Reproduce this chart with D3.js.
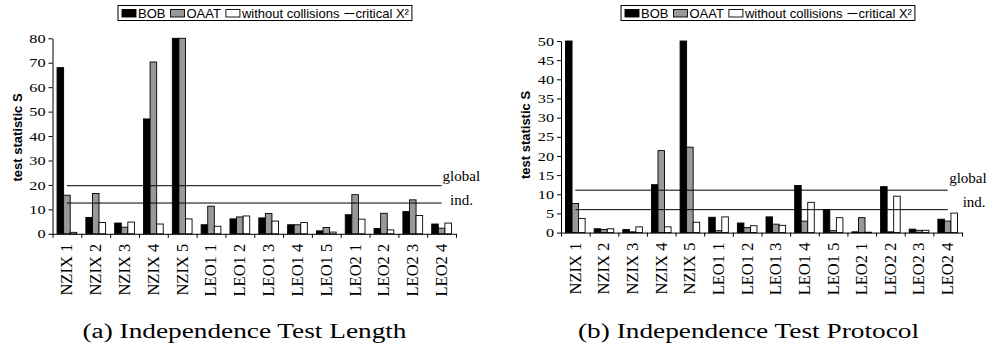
<!DOCTYPE html>
<html>
<head>
<meta charset="utf-8">
<script src="https://cdn.jsdelivr.net/npm/d3@7"></script>
<style>
  body { margin: 0; background: #fff; }
  svg { display: block; }
  .serif { font-family: "Liberation Serif", "Times New Roman", Times, serif; }
  .sans { font-family: "Liberation Sans", Arial, Helvetica, sans-serif; }
</style>
</head>
<body>
<svg id="chart" width="992" height="349"></svg>
<script>
// ---- data -------------------------------------------------------------
const categories = ["NZIX 1", "NZIX 2", "NZIX 3", "NZIX 4", "NZIX 5",
                    "LEO1 1", "LEO1 2", "LEO1 3", "LEO1 4", "LEO1 5",
                    "LEO2 1", "LEO2 2", "LEO2 3", "LEO2 4"];
const seriesNames = ["BOB", "OAAT", "without collisions"];
const criticalName = "critical X\u00B2";
const criticalLabels = ["global", "ind."];

// (a) test on packet length
const lengthBOB  = [68, 6.7, 4.4, 47, 95, 3.7, 6.1, 6.5, 3.7, 1.2, 7.8, 2.2, 9.1, 4.0];
const lengthOAAT = [15.8, 16.5, 2.7, 70.3, 120, 11.3, 6.9, 8.3, 3.7, 2.6, 16.0, 8.4, 13.9, 2.3];
const lengthFree = [0.6, 4.6, 4.8, 4.0, 6.1, 3.1, 7.3, 5.2, 4.6, 0.7, 6.0, 1.6, 7.5, 4.4];
const lengthCritical = [19.68, 12.59];
const lengthTicks = [0, 10, 20, 30, 40, 50, 60, 70, 80];

// (b) test on protocol
const protocolBOB  = [60, 1.0, 0.8, 12.5, 55, 4.0, 2.5, 4.1, 12.3, 6.0, 0.2, 12.0, 0.9, 3.5];
const protocolOAAT = [7.6, 0.8, 0.2, 21.4, 22.3, 0.5, 1.3, 2.2, 3.0, 0.5, 3.9, 0.2, 0.6, 3.0];
const protocolFree = [3.7, 1.0, 1.5, 1.5, 2.7, 4.1, 1.8, 1.9, 7.9, 3.9, 0.1, 9.5, 0.6, 5.1];
const protocolCritical = [11.07, 5.99];
const protocolTicks = [0, 5, 10, 15, 20, 25, 30, 35, 40, 45, 50];

const captions = ["(a) Independence Test Length", "(b) Independence Test Protocol"];

// ---- styling ----------------------------------------------------------
const fills = { "BOB": "#000000", "OAAT": "#999999", "without collisions": "#ffffff" };

const svg = d3.select("#chart");

const panels = [
  {
    values: [lengthBOB, lengthOAAT, lengthFree], critical: lengthCritical,
    ticks: lengthTicks, max: 80,
    xLeft: 52.5, xRight: 456, yBottom: 233.8, yTop: 38.3,
    titleX: 17.5, titleY: 137.5,
    legendX: 118,
    labelPos: [{ dx: 1, dy: -5 }, { dx: 8.5, dy: 2 }],
    caption: captions[0], captionX: 244.5, captionW: 324
  },
  {
    values: [protocolBOB, protocolOAAT, protocolFree], critical: protocolCritical,
    ticks: protocolTicks, max: 50,
    xLeft: 561, xRight: 962, yBottom: 232.6, yTop: 41,
    titleX: 525, titleY: 135,
    legendX: 621,
    labelPos: [{ dx: 1.5, dy: -7 }, { dx: 15, dy: -3 }],
    caption: captions[1], captionX: 748.5, captionW: 341
  }
];

function drawPanel(p) {
  const g = svg.append("g");

  const x0 = d3.scaleBand().domain(categories).range([p.xLeft, p.xRight]).padding(0);
  const x1 = d3.scaleBand().domain(seriesNames).range([0, x0.bandwidth()])
    .paddingInner(0).paddingOuter(0.69);
  const y = d3.scaleLinear().domain([0, p.max]).range([p.yBottom, p.yTop]).clamp(true);
  const boundary = d3.scaleLinear().domain([0, categories.length]).range([p.xLeft, p.xRight]);

  // grouped bars
  const rows = categories.map((c, i) => ({
    c, vals: seriesNames.map((s, k) => ({ s, v: p.values[k][i] }))
  }));
  g.append("g").selectAll("g").data(rows).join("g")
    .attr("transform", d => `translate(${x0(d.c)},0)`)
    .selectAll("rect").data(d => d.vals).join("rect")
      .attr("x", d => x1(d.s))
      .attr("width", x1.bandwidth())
      .attr("y", d => y(d.v))
      .attr("height", d => y(0) - y(d.v))
      .attr("fill", d => fills[d.s])
      .attr("stroke", "#000")
      .attr("stroke-width", 0.9);

  // critical value lines, from first to last category centre
  const half = x0.bandwidth() / 2;
  const lx1 = x0(categories[0]) + half;
  const lx2 = x0(categories[categories.length - 1]) + half;
  p.critical.forEach((v, i) => {
    g.append("line")
      .attr("x1", lx1).attr("x2", lx2)
      .attr("y1", y(v)).attr("y2", y(v))
      .attr("stroke", "#000").attr("stroke-width", 1);
    g.append("text").attr("class", "serif")
      .attr("x", lx2 + p.labelPos[i].dx)
      .attr("y", y(v) + p.labelPos[i].dy)
      .attr("font-size", 15)
      .attr("fill", "#000")
      .text(criticalLabels[i]);
  });

  // y axis
  const yAxis = g.append("g")
    .attr("transform", `translate(${p.xLeft},0)`)
    .call(d3.axisLeft(y).tickValues(p.ticks).tickSize(4).tickSizeOuter(0).tickPadding(3));
  yAxis.attr("font-family", null);
  yAxis.selectAll("text").attr("class", "serif").attr("font-size", 13).attr("fill", "#000")
    .each(function () {
      // wide digits, as in the printed figure
      const w = this.getComputedTextLength();
      d3.select(this).attr("textLength", w * 1.25).attr("lengthAdjust", "spacingAndGlyphs");
    });
  yAxis.selectAll("line, path").attr("stroke", "#000");

  // x axis with ticks on category boundaries
  const xAxis = g.append("g")
    .attr("transform", `translate(0,${p.yBottom})`)
    .call(d3.axisBottom(boundary).tickValues(d3.range(categories.length + 1))
      .tickSize(4).tickSizeOuter(0).tickFormat(""));
  xAxis.selectAll("line, path").attr("stroke", "#000");

  // category labels, rotated
  g.append("g").selectAll("text").data(categories).join("text")
    .attr("class", "serif")
    .attr("transform", d => `translate(${x0(d) + half},${p.yBottom + 10}) rotate(-90)`)
    .attr("dy", "0.33em")
    .attr("text-anchor", "end")
    .attr("font-size", 16.5)
    .attr("fill", "#000")
    .text(d => d);

  // y axis title
  g.append("text").attr("class", "sans")
    .attr("transform", `translate(${p.titleX},${p.titleY}) rotate(-90)`)
    .attr("dy", "0.35em")
    .attr("text-anchor", "middle")
    .attr("font-size", 13).attr("font-weight", "bold")
    .attr("fill", "#000")
    .text("test statistic S");

  // legend
  const lg = g.append("g").attr("transform", `translate(${p.legendX},5.5)`);
  const box = lg.append("rect").attr("fill", "#fff").attr("stroke", "#000").attr("stroke-width", 1);
  let cx = 4;
  seriesNames.forEach(s => {
    lg.append("rect").attr("x", cx).attr("y", 4).attr("width", 14).attr("height", 7.5)
      .attr("fill", fills[s]).attr("stroke", "#000").attr("stroke-width", 0.9);
    const t = lg.append("text").attr("class", "sans").attr("x", cx + 16).attr("y", 12.2)
      .attr("font-size", 13).attr("fill", "#000").text(s);
    cx += 16 + t.node().getComputedTextLength() + 5;
  });
  lg.append("line").attr("x1", cx).attr("x2", cx + 10).attr("y1", 8).attr("y2", 8)
    .attr("stroke", "#000").attr("stroke-width", 1);
  const ct = lg.append("text").attr("class", "sans").attr("x", cx + 11).attr("y", 12.2)
    .attr("font-size", 13).attr("fill", "#000").text(criticalName);
  cx += 11 + ct.node().getComputedTextLength() + 3;
  box.attr("x", 0).attr("y", 0).attr("width", cx).attr("height", 15);

  // caption
  g.append("text").attr("class", "serif")
    .attr("x", p.captionX).attr("y", 338)
    .attr("text-anchor", "middle")
    .attr("font-size", 20)
    .attr("textLength", p.captionW).attr("lengthAdjust", "spacingAndGlyphs")
    .attr("fill", "#000")
    .text(p.caption);
}

panels.forEach(drawPanel);
</script>
</body>
</html>
